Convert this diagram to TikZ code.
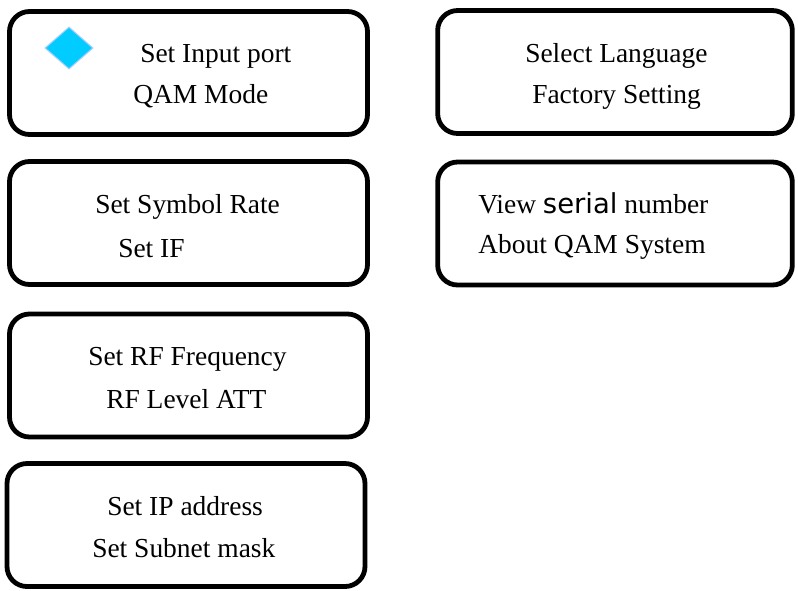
\documentclass[tikz,border=0pt]{standalone}
\usepackage{fontspec}
\setmainfont{Liberation Serif}
\newfontfamily\serialfont{DejaVu Sans}
\usetikzlibrary{shapes.geometric}
\definecolor{markcyan}{RGB}{0,204,255}
\definecolor{markedge}{RGB}{160,205,255}
\begin{document}
\begin{tikzpicture}[%
    x=0.75pt, y=-0.75pt,          % work in pixels of the screen shot
    every node/.style={font=\fontsize{20.6}{24}\selectfont},
    ]
% -------------------------------------------------
% Box and text styles
\tikzset{
  menubox/.style={draw, rectangle, rounded corners=15pt, line width=3.6pt,
    minimum width=268.5pt, minimum height=92.25pt, inner sep=0pt},
  rbox/.style={menubox, minimum width=266pt},
  item/.style={anchor=base west, inner sep=0pt},
  cursor/.style={diamond, fill=markcyan, draw=markedge, line width=0.8pt,
    minimum width=36pt, minimum height=31.5pt, inner sep=0pt}
}
\useasboundingbox (0,0) rectangle (798,590);
% -------------------------------------------------
% The menu pages
\node [menubox] (port)   at (188.5,73)    {};
\node [menubox] (symbol) at (188.5,223)   {};
\node [menubox] (rf)     at (188.5,375.5) {};
\node [menubox] (ip)     at (186,525)     {};
\node [rbox]    (lang)   at (615,72)      {};
\node [rbox]    (about)  at (615,223.5)   {};

% The selection mark
\node [cursor] (mark) at (69,48) {};

% -------------------------------------------------
% Menu entries
\node [item] (port1)   at (140,62)  {Set Input port};
\node [item] (port2)   at (133,103) {QAM Mode};
\node [item] (symbol1) at (95,213)  {Set Symbol Rate};
\node [item] (symbol2) at (118,257) {Set IF};
\node [item] (rf1)     at (88,365)  {Set RF Frequency};
\node [item] (rf2)     at (106,408) {RF Level ATT};
\node [item] (ip1)     at (107,515) {Set IP address};
\node [item] (ip2)     at (92,557)  {Set Subnet mask};
\node [item] (lang1)   at (525,62)  {Select Language};
\node [item] (lang2)   at (532,103) {Factory Setting};
\node [item] (about1)  at (478,213) {View {\serialfont serial} number};
\node [item] (about2)  at (478,253) {About QAM System};
% -------------------------------------------------
\end{tikzpicture}
\end{document}
